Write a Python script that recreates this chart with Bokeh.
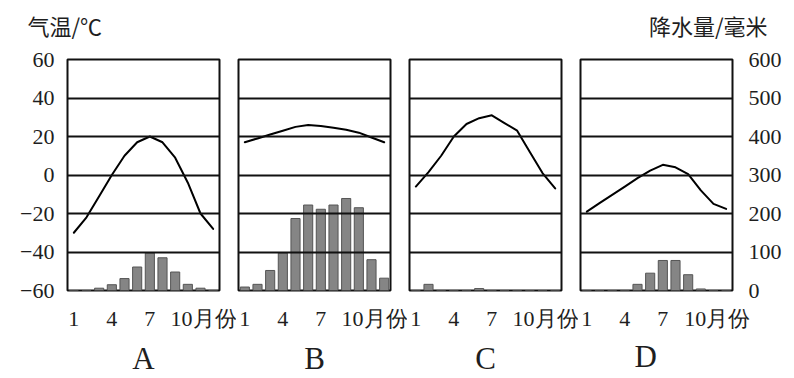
from bokeh.plotting import figure
from bokeh.layouts import row, column
from bokeh.models import Range1d, LinearAxis, FixedTicker, Title
from bokeh.core.properties import value
from bokeh.embed import file_html
from bokeh.resources import INLINE

months = [1, 2, 3, 4, 5, 6, 7, 8, 9, 10, 11, 12]
panel_names = ["A", "B", "C", "D"]

temp_A = [-30, -22, -11, 0, 10, 17, 20, 17, 9, -4, -20, -28]
temp_B = [17, 19, 21, 23, 25, 26, 25.5, 24.5, 23.5, 22, 19.5, 17]
temp_C = [-6, 1.5, 10, 20, 26.5, 29.5, 31, 27, 23, 12, 1, -7]
temp_D = [-19, -14.6, -10.3, -6, -1.6, 2.3, 5.3, 4, 0.5, -8, -15, -17.6]

precip_A = [0, 0, 6, 15, 31, 61, 97, 85, 48, 16, 6, 0]
precip_B = [9, 16, 52, 97, 187, 222, 211, 222, 239, 215, 80, 32]
precip_C = [0, 16, 0, 0, 0, 5, 0, 0, 0, 0, 0, 0]
precip_D = [0, 0, 0, 0, 16, 45, 78, 78, 41, 4, 0, 0]

temp_ticks = [-60, -40, -20, 0, 20, 40, 60]
precip_ticks = [0, 100, 200, 300, 400, 500, 600]
month_ticks = [1, 4, 7, 11.3]
month_labels = ["1", "4", "7", "10月份"]
axis_titles = ["气温/℃", "降水量/毫米"]

temps = [temp_A, temp_B, temp_C, temp_D]
precips = [precip_A, precip_B, precip_C, precip_D]

TEXT = "#1e1e1e"
NUMFONT = "Liberation Serif"
CJKFONT = "Noto Sans CJK SC"

# header strip carrying the two axis titles
header = figure(width=794, height=40, x_range=Range1d(0, 794), y_range=Range1d(0, 40),
                min_border=0, output_backend="svg", toolbar_location=None,
                x_axis_location=None, y_axis_location=None,
                background_fill_color="white", border_fill_color="white")
header.outline_line_color = None
header.grid.visible = False
header.text(x=[27], y=[16], text=[axis_titles[0]], text_align="left",
            text_baseline="middle", text_font=value(CJKFONT),
            text_font_size="22px", text_color=TEXT)
header.text(x=[767], y=[16], text=[axis_titles[1]], text_align="right",
            text_baseline="middle", text_font=value(CJKFONT),
            text_font_size="22px", text_color=TEXT)

borders = [(67, 17), (2, 17), (2, 17), (2, 62)]

figs = []
for i, name in enumerate(panel_names):
    bl, br = borders[i]
    p = figure(frame_width=152, frame_height=231,
               min_border_left=bl, min_border_right=br,
               min_border_top=19, min_border_bottom=88,
               x_range=Range1d(0.5, 12.5), y_range=Range1d(-60, 60),
               output_backend="svg", toolbar_location=None,
               y_axis_location="left" if i == 0 else None,
               background_fill_color="white", border_fill_color="white")
    p.extra_y_ranges = {"precip": Range1d(0, 600)}

    p.vbar(x=months, top=precips[i], bottom=0, width=0.72,
           y_range_name="precip", fill_color="#858585",
           line_color="#555555", line_width=1)
    p.line(months, temps[i], line_width=2, line_color="black",
           line_join="round", line_cap="round")

    p.xgrid.visible = False
    p.ygrid.ticker = FixedTicker(ticks=temp_ticks)
    p.ygrid.grid_line_color = "#111111"
    p.ygrid.grid_line_width = 2
    p.ygrid.level = "overlay"
    p.outline_line_color = "#111111"
    p.outline_line_width = 2

    xa = p.xaxis[0]
    xa.ticker = FixedTicker(ticks=month_ticks)
    xa.major_label_overrides = {t: l for t, l in zip(month_ticks, month_labels)}
    xa.axis_line_color = None
    xa.major_tick_line_color = None
    xa.minor_tick_line_color = None
    xa.major_label_text_font = NUMFONT
    xa.major_label_text_font_size = "22px"
    xa.major_label_text_color = TEXT
    xa.major_label_standoff = 9
    if i < 3:
        xa.axis_label = name
        xa.axis_label_text_font = NUMFONT
        xa.axis_label_text_font_size = "31px"
        xa.axis_label_text_font_style = "normal"
        xa.axis_label_text_color = TEXT
        xa.axis_label_standoff = 7
    else:
        p.add_layout(Title(text=name, align="left", offset=54,
                           text_font=NUMFONT, text_font_size="31px",
                           text_font_style="normal", text_color=TEXT,
                           standoff=7), "below")

    if i == 0:
        ya = p.yaxis[0]
        ya.ticker = FixedTicker(ticks=temp_ticks)
        ya.major_label_overrides = {t: (str(t) if t >= 0 else "\u2212" + str(-t)) for t in temp_ticks}
        ya.axis_line_color = None
        ya.major_tick_line_color = None
        ya.minor_tick_line_color = None
        ya.major_label_text_font = NUMFONT
        ya.major_label_text_font_size = "22px"
        ya.major_label_text_color = TEXT
        ya.major_label_standoff = 7
    if i == 3:
        ra = LinearAxis(y_range_name="precip", ticker=FixedTicker(ticks=precip_ticks))
        ra.axis_line_color = None
        ra.major_tick_line_color = None
        ra.minor_tick_line_color = None
        ra.major_label_text_font = NUMFONT
        ra.major_label_text_font_size = "22px"
        ra.major_label_text_color = TEXT
        ra.major_label_standoff = 10
        p.add_layout(ra, "right")
    figs.append(p)

layout = column(header, row(*figs, spacing=0), spacing=0)
open("out.html", "w").write(file_html(layout, INLINE))
